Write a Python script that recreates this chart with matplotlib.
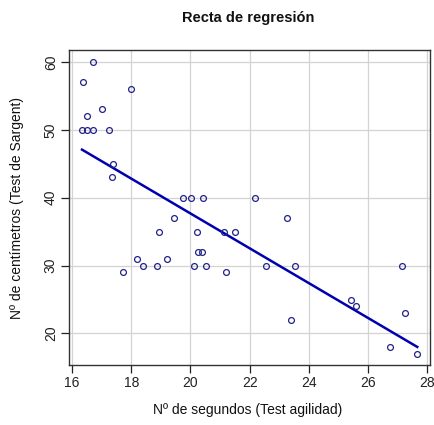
import numpy as np
import matplotlib
matplotlib.use("Agg")
import matplotlib.pyplot as plt

plt.rcParams['font.family'] = ['Liberation Sans', 'DejaVu Sans']

segundos = [16.70, 16.37, 18.00, 17.01, 16.52, 16.34, 16.52, 16.72, 17.24, 17.40,
            17.34, 19.76, 20.02, 20.44, 22.18, 19.45, 23.27, 18.94, 20.22, 21.15,
            21.51, 20.27, 20.40, 18.19, 19.22, 18.41, 18.86, 20.11, 20.54, 22.56,
            23.52, 27.13, 17.72, 21.21, 25.41, 25.59, 27.23, 23.39, 26.73, 27.66]
centimetros = [60, 57, 56, 53, 52, 50, 50, 50, 50, 45,
               43, 40, 40, 40, 40, 37, 37, 35, 35, 35,
               35, 32, 32, 31, 31, 30, 30, 30, 30, 30,
               30, 30, 29, 29, 25, 24, 23, 22, 18, 17]
x_ticks = [16, 18, 20, 22, 24, 26, 28]
y_ticks = [20, 30, 40, 50, 60]

x = np.array(segundos)
y = np.array(centimetros)
b, a = np.polyfit(x, y, 1)
order = np.argsort(x)

fig = plt.figure(figsize=(4.35, 4.25), dpi=100)
ax = fig.add_axes([69/435, 60/425, 361/435, 315/425])

for t in x_ticks:
    ax.axvline(t, color='#d3d3d3', lw=0.9, zorder=0)
for t in y_ticks:
    ax.axhline(t, color='#d3d3d3', lw=0.9, zorder=0)

ax.plot(x, y, 'o', mfc='none', mec='#22228a', ms=4.2, mew=0.9, zorder=3)
ax.plot(x[order], a + b * x[order], color='#0000b0', lw=1.8, zorder=2)

ax.set_xlim(15.90, 28.09)
ax.set_ylim(15.36, 61.75)
ax.set_xticks(x_ticks)
ax.set_yticks(y_ticks)
ax.tick_params(direction='out', length=6, width=0.9, labelsize=10, colors='#222222', pad=2)
for lab in ax.get_yticklabels():
    lab.set_rotation(90)
    lab.set_va('center')
for s in ax.spines.values():
    s.set_color('#333333')
    s.set_linewidth(1.0)

fig.text(248/435, 1 - 410/425, 'Nº de segundos (Test agilidad)', ha='center', va='center',
         fontsize=10, color='#111111')
fig.text(17/435, 1 - 208/425, 'Nº de centímetros (Test de Sargent)', ha='center', va='center',
         fontsize=10, rotation=90, color='#111111')
fig.text(248/435, 1 - 18/425, 'Recta de regresión', ha='center', va='center',
         fontsize=10.5, fontweight='bold', color='#111111')

fig.savefig('out.png', dpi=100)
